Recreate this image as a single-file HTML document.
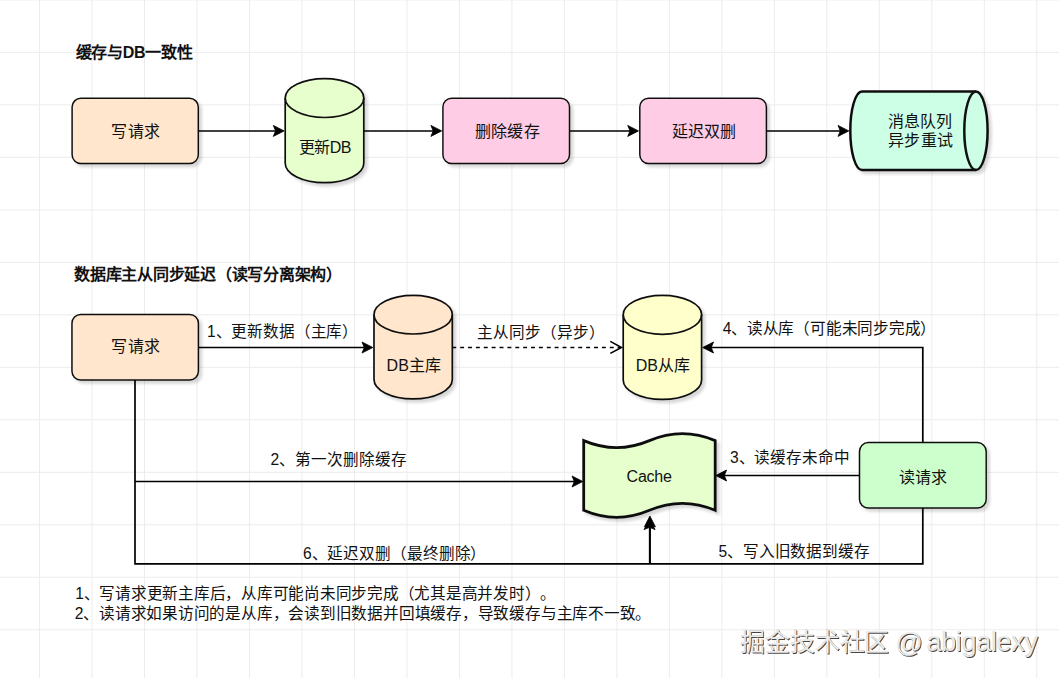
<!DOCTYPE html>
<html lang="zh-CN"><head><meta charset="utf-8"><style>
html,body{margin:0;padding:0;background:#fff;width:1059px;height:678px;overflow:hidden}
svg{display:block;font-family:"Liberation Sans",sans-serif;text-spacing-trim:space-all}
</style></head><body>
<svg width="1059" height="678" viewBox="0 0 1059 678">
<defs><filter id="wb" x="-5%" y="-20%" width="110%" height="140%"><feGaussianBlur stdDeviation="0.45"/></filter><filter id="sh" x="-20%" y="-20%" width="150%" height="150%"><feGaussianBlur in="SourceAlpha" stdDeviation="1.6"/><feOffset dx="2.5" dy="3" result="b"/><feComponentTransfer><feFuncA type="linear" slope="0.16"/></feComponentTransfer><feMerge><feMergeNode/><feMergeNode in="SourceGraphic"/></feMerge></filter></defs>
<rect width="1059" height="678" fill="#fff"/>
<path d="M39.50,0V678M91.99,0V678M144.48,0V678M196.97,0V678M249.46,0V678M301.95,0V678M354.44,0V678M406.93,0V678M459.42,0V678M511.91,0V678M564.40,0V678M616.89,0V678M669.38,0V678M721.87,0V678M774.36,0V678M826.85,0V678M879.34,0V678M931.83,0V678M984.32,0V678M1036.81,0V678M0,-0.10H1059M0,52.39H1059M0,104.88H1059M0,157.37H1059M0,209.86H1059M0,262.35H1059M0,314.84H1059M0,367.33H1059M0,419.82H1059M0,472.31H1059M0,524.80H1059M0,577.29H1059M0,629.78H1059" stroke="#ececec" stroke-width="1" fill="none"/>
<rect x="72.10" y="98.30" width="126.20" height="65.20" rx="8.8" fill="#FFE6CC" stroke="#111" stroke-width="1.5" filter="url(#sh)"/>
<path d="M198.30,130.90 L276.00,130.90" fill="none" stroke="#000" stroke-width="1.5"/>
<polygon points="284.10,130.90 273.30,125.40 275.60,130.90 273.30,136.40" fill="#000" stroke="#000" stroke-width="0.8"/>
<path d="M285.20,98.05 A39.30,19.45 0 0 1 363.80,98.05 L363.80,163.15 A39.30,19.45 0 0 1 285.20,163.15 Z" fill="#E6FFCC" stroke="#111" stroke-width="1.7" filter="url(#sh)"/><path d="M285.20,98.05 A39.30,19.45 0 0 0 363.80,98.05" fill="none" stroke="#111" stroke-width="1.7"/>
<path d="M363.80,130.90 L434.00,130.90" fill="none" stroke="#000" stroke-width="1.5"/>
<polygon points="441.70,130.90 430.90,125.40 433.20,130.90 430.90,136.40" fill="#000" stroke="#000" stroke-width="0.8"/>
<rect x="442.90" y="98.20" width="126.60" height="65.30" rx="8.8" fill="#FFCCE6" stroke="#111" stroke-width="1.5" filter="url(#sh)"/>
<path d="M569.50,130.90 L631.00,130.90" fill="none" stroke="#000" stroke-width="1.5"/>
<polygon points="638.50,130.90 627.70,125.40 630.00,130.90 627.70,136.40" fill="#000" stroke="#000" stroke-width="0.8"/>
<rect x="639.80" y="98.20" width="126.60" height="65.30" rx="8.8" fill="#FFCCE6" stroke="#111" stroke-width="1.5" filter="url(#sh)"/>
<path d="M766.40,130.90 L841.00,130.90" fill="none" stroke="#000" stroke-width="1.5"/>
<polygon points="848.80,130.90 838.00,125.40 840.30,130.90 838.00,136.40" fill="#000" stroke="#000" stroke-width="0.8"/>
<path d="M861.95,91.50 L975.95,91.50 A11.65,39.25 0 0 1 975.95,170.00 L861.95,170.00 A11.65,39.25 0 0 1 861.95,91.50 Z" fill="#CCFFE6" stroke="#111" stroke-width="2.5" filter="url(#sh)"/><path d="M975.95,91.50 A11.65,39.25 0 0 0 975.95,170.00" fill="none" stroke="#111" stroke-width="2.5"/>
<rect x="71.95" y="314.50" width="126.45" height="65.50" rx="8.8" fill="#FFE6CC" stroke="#111" stroke-width="1.5" filter="url(#sh)"/>
<path d="M198.40,347.50 L364.00,347.50" fill="none" stroke="#000" stroke-width="1.7"/>
<polygon points="372.80,347.50 362.00,342.00 364.30,347.50 362.00,353.00" fill="#000" stroke="#000" stroke-width="0.8"/>
<path d="M374.00,314.70 A39.15,19.30 0 0 1 452.30,314.70 L452.30,379.60 A39.15,19.30 0 0 1 374.00,379.60 Z" fill="#FFE6CC" stroke="#111" stroke-width="1.7" filter="url(#sh)"/><path d="M374.00,314.70 A39.15,19.30 0 0 0 452.30,314.70" fill="none" stroke="#111" stroke-width="1.7"/>
<path d="M452.30,347.50 L620.00,347.50" fill="none" stroke="#000" stroke-width="1.7" stroke-dasharray="3.9 3.975" stroke-dashoffset="0"/>
<path d="M610.3,341.4 L621.5,347.5 L610.3,353.4" fill="none" stroke="#000" stroke-width="1.6"/>
<path d="M623.20,314.85 A39.20,19.45 0 0 1 701.60,314.85 L701.60,379.95 A39.20,19.45 0 0 1 623.20,379.95 Z" fill="#FFFFCC" stroke="#111" stroke-width="1.7" filter="url(#sh)"/><path d="M623.20,314.85 A39.20,19.45 0 0 0 701.60,314.85" fill="none" stroke="#111" stroke-width="1.7"/>
<path d="M922.80,442.60 L922.80,347.50 L711.00,347.50" fill="none" stroke="#000" stroke-width="1.7"/>
<polygon points="702.70,347.50 713.50,342.00 711.20,347.50 713.50,353.00" fill="#000" stroke="#000" stroke-width="0.8"/>
<rect x="859.50" y="442.60" width="126.70" height="65.50" rx="8.8" fill="#CCFFCC" stroke="#111" stroke-width="1.5" filter="url(#sh)"/>
<path d="M583.7,440.6 Q616.58,454.6 649.45,440.6 Q682.33,426.6 715.2,440.6 L715.2,510.3 Q682.33,496.3 649.45,510.3 Q616.58,524.3 583.7,510.3 Z" fill="#E6FFCC" stroke="#111" stroke-width="2.8" stroke-linejoin="miter" filter="url(#sh)"/>
<path d="M859.50,475.50 L724.00,475.50" fill="none" stroke="#000" stroke-width="1.7"/>
<polygon points="715.80,475.50 726.60,470.00 724.30,475.50 726.60,481.00" fill="#000" stroke="#000" stroke-width="0.8"/>
<path d="M135.00,380.00 L135.00,563.90 L922.80,563.90 L922.80,508.10" fill="none" stroke="#000" stroke-width="1.7"/>
<path d="M135.00,481.50 L575.00,481.50" fill="none" stroke="#000" stroke-width="1.7"/>
<polygon points="582.80,481.50 572.00,476.00 574.30,481.50 572.00,487.00" fill="#000" stroke="#000" stroke-width="0.8"/>
<path d="M649.90,563.90 L649.90,527.00" fill="none" stroke="#000" stroke-width="2.1"/>
<polygon points="649.90,516.00 644.40,526.80 649.90,524.50 655.40,526.80" fill="#000" stroke="#000" stroke-width="0.8"/>
<polygon points="649.60,518.80 644.10,529.60 649.60,527.30 655.10,529.60" fill="#000" stroke="#000" stroke-width="0.8"/>
<text class="lbl" x="75.65" y="57.60" font-size="16" font-weight="bold" fill="#111" textLength="116.86" lengthAdjust="spacing">缓存与DB一致性</text>
<text class="lbl" x="111.20" y="137.47" font-size="16" font-weight="normal" fill="#111" textLength="49.00" lengthAdjust="spacing">写请求</text>
<text class="lbl" x="298.55" y="153.05" font-size="16" font-weight="normal" fill="#111" textLength="52.98" lengthAdjust="spacing">更新DB</text>
<text class="lbl" x="475.00" y="137.13" font-size="16" font-weight="normal" fill="#111" textLength="64.50" lengthAdjust="spacing">删除缓存</text>
<text class="lbl" x="672.00" y="137.40" font-size="16" font-weight="normal" fill="#111" textLength="63.75" lengthAdjust="spacing">延迟双删</text>
<text class="lbl" x="888.40" y="126.55" font-size="16" font-weight="normal" fill="#111" textLength="64.00" lengthAdjust="spacing">消息队列</text>
<text class="lbl" x="888.40" y="146.45" font-size="16" font-weight="normal" fill="#111" textLength="64.25" lengthAdjust="spacing">异步重试</text>
<text class="lbl" x="74.00" y="280.12" font-size="16" font-weight="bold" fill="#111" textLength="268.25" lengthAdjust="spacing">数据库主从同步延迟（读写分离架构）</text>
<text class="lbl" x="111.20" y="352.48" font-size="16" font-weight="normal" fill="#111" textLength="49.00" lengthAdjust="spacing">写请求</text>
<text class="lbl" x="207.05" y="336.87" font-size="15.6" font-weight="normal" fill="#111" textLength="151.19" lengthAdjust="spacing">1、更新数据（主库）</text>
<text class="lbl" x="386.45" y="371.37" font-size="16" font-weight="normal" fill="#111" textLength="54.73" lengthAdjust="spacing">DB主库</text>
<text class="lbl" x="477.20" y="337.68" font-size="15.6" font-weight="normal" fill="#111" textLength="128.25" lengthAdjust="spacing">主从同步（异步）</text>
<text class="lbl" x="635.65" y="371.37" font-size="16" font-weight="normal" fill="#111" textLength="53.98" lengthAdjust="spacing">DB从库</text>
<text class="lbl" x="722.70" y="334.30" font-size="15.6" font-weight="normal" fill="#111" textLength="213.69" lengthAdjust="spacing">4、读从库（可能未同步完成）</text>
<text class="lbl" x="898.65" y="482.50" font-size="16" font-weight="normal" fill="#111" textLength="48.75" lengthAdjust="spacing">读请求</text>
<text class="lbl" x="626.60" y="482.10" font-size="16" font-weight="normal" fill="#111" textLength="45.25" lengthAdjust="spacing">Cache</text>
<text class="lbl" x="730.00" y="462.68" font-size="15.6" font-weight="normal" fill="#111" textLength="119.69" lengthAdjust="spacing">3、读缓存未命中</text>
<text class="lbl" x="270.40" y="464.70" font-size="15.6" font-weight="normal" fill="#111" textLength="136.19" lengthAdjust="spacing">2、第一次删除缓存</text>
<text class="lbl" x="303.00" y="558.65" font-size="15.6" font-weight="normal" fill="#111" textLength="183.44" lengthAdjust="spacing">6、延迟双删（最终删除）</text>
<text class="lbl" x="718.55" y="557.33" font-size="15.6" font-weight="normal" fill="#111" textLength="151.19" lengthAdjust="spacing">5、写入旧数据到缓存</text>
<text class="lbl" x="75.30" y="599.40" font-size="15.6" font-weight="normal" fill="#111" textLength="481.19" lengthAdjust="spacing">1、写请求更新主库后，从库可能尚未同步完成（尤其是高并发时）。</text>
<text class="lbl" x="74.80" y="618.73" font-size="15.6" font-weight="normal" fill="#111" textLength="576.69" lengthAdjust="spacing">2、读请求如果访问的是从库，会读到旧数据并回填缓存，导致缓存与主库不一致。</text>
<text x="741.00" y="651.70" font-size="25" fill="#444" filter="url(#wb)" textLength="149.40" lengthAdjust="spacing">掘金技术社区</text>
<text class="lbl wm" x="740.00" y="650.70" font-size="25" fill="#ececec" stroke="#999" stroke-width="0.15" textLength="149.40" lengthAdjust="spacing">掘金技术社区</text>
<text x="896.50" y="652.77" font-size="27" fill="#444" filter="url(#wb)" textLength="15.67" lengthAdjust="spacing">@</text>
<text class="lbl wm" x="895.50" y="651.77" font-size="27" fill="#ececec" stroke="#999" stroke-width="0.15" textLength="15.67" lengthAdjust="spacing">@</text>
<text x="927.50" y="651.77" font-size="27" fill="#444" filter="url(#wb)" textLength="111.38" lengthAdjust="spacing">abigalexy</text>
<text class="lbl wm" x="926.50" y="650.77" font-size="27" fill="#ececec" stroke="#999" stroke-width="0.15" textLength="111.38" lengthAdjust="spacing">abigalexy</text>
</svg>
</body></html>
